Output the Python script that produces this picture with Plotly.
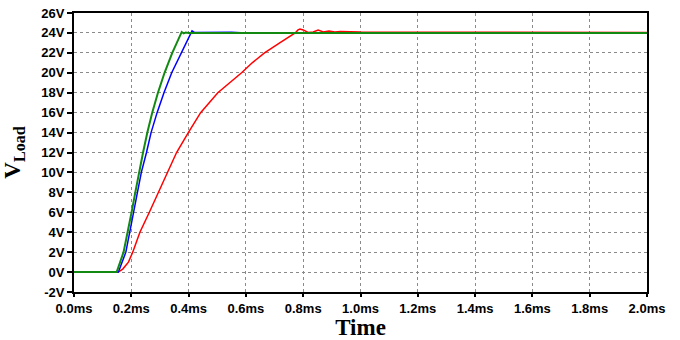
import plotly.graph_objects as go

# Time axis in ms, voltage in V
green_t = [0.0, 0.149, 0.173, 0.188, 0.201, 0.214, 0.227, 0.241, 0.256, 0.273, 0.293, 0.316, 0.343, 0.376, 0.383, 0.39, 0.40, 0.42, 2.0]
green_v = [0.0, 0.0, 2.0, 4.0, 6.0, 8.0, 10.0, 12.0, 14.0, 16.0, 18.0, 20.0, 22.0, 24.1, 23.95, 24.05, 24.0, 24.0, 24.0]

blue_t = [0.0, 0.155, 0.181, 0.195, 0.208, 0.221, 0.235, 0.253, 0.269, 0.290, 0.314, 0.341, 0.374, 0.406, 0.412, 0.42, 0.55, 0.60, 2.0]
blue_v = [0.0, 0.0, 2.0, 4.0, 6.0, 8.0, 10.0, 12.0, 14.0, 16.0, 18.0, 20.0, 22.0, 24.0, 24.2, 24.05, 24.07, 24.0, 24.0]

red_t = [0.0, 0.155, 0.170, 0.190, 0.205, 0.230, 0.263, 0.294, 0.327, 0.358, 0.399, 0.442, 0.502, 0.585, 0.622, 0.665, 0.718, 0.755, 0.772, 0.782, 0.789, 0.800, 0.817, 0.835, 0.852, 0.87, 0.89, 0.91, 0.93, 1.0, 1.2, 1.5, 2.0]
red_v = [0.0, 0.0, 0.3, 1.0, 2.0, 4.0, 6.0, 8.0, 10.0, 12.0, 14.0, 16.0, 18.0, 20.0, 21.0, 22.0, 23.0, 23.7, 24.0, 24.3, 24.4, 24.3, 24.05, 24.1, 24.3, 24.1, 24.2, 24.1, 24.15, 24.1, 24.08, 24.05, 24.05]

x_ticks = [0.0, 0.2, 0.4, 0.6, 0.8, 1.0, 1.2, 1.4, 1.6, 1.8, 2.0]
x_labels = ["0.0ms", "0.2ms", "0.4ms", "0.6ms", "0.8ms", "1.0ms", "1.2ms", "1.4ms", "1.6ms", "1.8ms", "2.0ms"]
y_ticks = [-2, 0, 2, 4, 6, 8, 10, 12, 14, 16, 18, 20, 22, 24, 26]
y_labels = ["-2V", "0V", "2V", "4V", "6V", "8V", "10V", "12V", "14V", "16V", "18V", "20V", "22V", "24V", "26V"]

fig = go.Figure()
fig.add_trace(go.Scatter(x=red_t, y=red_v, mode="lines", line=dict(color="#ff0000", width=1.5), showlegend=False))
fig.add_trace(go.Scatter(x=blue_t, y=blue_v, mode="lines", line=dict(color="#0000ff", width=1.5), showlegend=False))
fig.add_trace(go.Scatter(x=green_t, y=green_v, mode="lines", line=dict(color="#128a12", width=2), showlegend=False))

tickfont = dict(family="Liberation Sans, Arial", size=13, color="black", weight="bold")
titlefont = dict(family="Liberation Serif, Times New Roman", size=23, color="black", weight="bold")

fig.update_layout(
    width=680, height=340,
    margin=dict(l=74, r=33, t=13, b=48),
    plot_bgcolor="white", paper_bgcolor="white",
    xaxis=dict(
        range=[0, 2.0], tickvals=x_ticks, ticktext=x_labels, tickfont=tickfont,
        showgrid=True, gridcolor="#8a8a8a", griddash="3px,3px", gridwidth=1,
        showline=True, linecolor="black", linewidth=2, mirror=True,
        ticks="outside", ticklen=3, tickcolor="black", tickwidth=2,
        zeroline=False, automargin=False,
        title=dict(text="Time", font=titlefont, standoff=14),
    ),
    yaxis=dict(
        range=[-2, 26], tickvals=y_ticks, ticktext=y_labels, tickfont=tickfont,
        showgrid=True, gridcolor="#8a8a8a", griddash="3px,3px", gridwidth=1,
        showline=True, linecolor="black", linewidth=2, mirror=True,
        ticks="outside", ticklen=5, tickcolor="black", tickwidth=2,
        zeroline=False, automargin=False,
        title=dict(text="V<sub>Load</sub>", font=titlefont, standoff=14),
    ),
)

fig.write_html("out.html")
